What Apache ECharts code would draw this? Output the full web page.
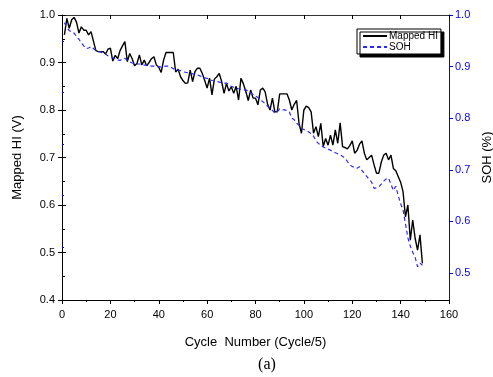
<!DOCTYPE html>
<html><head><meta charset="utf-8">
<script src="https://cdn.jsdelivr.net/npm/echarts@6/dist/echarts.min.js"></script>
<style>html,body{margin:0;padding:0;background:#fff}#c{width:493px;height:377px}</style>
</head><body><div id="c"></div>
<script>
// Cycle numbers (Cycle/5)
const cycles = Array.from({length: 149}, (_, i) => i + 1);
// Mapped HI (V), left axis
const mappedHI = [
0.958,0.993,0.972,0.990,0.995,0.985,0.962,0.975,0.968,0.968,
0.958,0.965,0.945,0.925,0.923,0.923,0.923,0.918,0.928,0.930,
0.903,0.915,0.908,0.925,0.935,0.944,0.902,0.919,0.908,0.893,
0.898,0.916,0.895,0.905,0.893,0.900,0.908,0.912,0.895,0.890,
0.879,0.905,0.921,0.921,0.921,0.921,0.880,0.886,0.870,0.862,
0.856,0.857,0.884,0.860,0.881,0.888,0.888,0.877,0.862,0.846,
0.867,0.832,0.865,0.870,0.877,0.860,0.835,0.856,0.840,0.849,
0.835,0.850,0.821,0.867,0.855,0.839,0.820,0.842,0.825,0.825,
0.811,0.842,0.846,0.838,0.812,0.800,0.825,0.796,0.796,0.834,
0.834,0.834,0.834,0.821,0.800,0.812,0.820,0.772,0.751,0.800,
0.808,0.805,0.796,0.751,0.765,0.744,0.772,0.723,0.740,0.726,
0.747,0.726,0.758,0.730,0.773,0.723,0.721,0.718,0.725,0.735,
0.709,0.715,0.728,0.735,0.709,0.695,0.700,0.705,0.685,0.667,
0.667,0.690,0.705,0.709,0.695,0.705,0.677,0.672,0.660,0.648,
0.628,0.575,0.600,0.526,0.568,0.530,0.505,0.537,0.477
];
// SOH, right axis
const soh = [
0.985,0.975,0.970,0.967,0.965,0.958,0.953,0.946,0.940,0.935,
0.936,0.939,0.935,0.931,0.929,0.928,0.926,0.924,0.921,0.919,
0.917,0.915,0.913,0.912,0.915,0.916,0.912,0.909,0.907,0.906,
0.905,0.905,0.904,0.903,0.903,0.902,0.901,0.901,0.900,0.900,
0.899,0.900,0.901,0.901,0.899,0.896,0.894,0.893,0.892,0.890,
0.889,0.888,0.887,0.886,0.885,0.884,0.882,0.880,0.878,0.877,
0.875,0.873,0.872,0.871,0.870,0.869,0.868,0.868,0.865,0.862,
0.860,0.858,0.857,0.856,0.855,0.855,0.852,0.849,0.846,0.843,
0.840,0.836,0.832,0.828,0.823,0.819,0.815,0.810,0.812,0.818,
0.816,0.816,0.815,0.812,0.800,0.797,0.790,0.786,0.780,0.778,
0.776,0.773,0.770,0.765,0.756,0.751,0.748,0.744,0.742,0.740,
0.738,0.735,0.733,0.731,0.729,0.726,0.722,0.716,0.710,0.706,
0.705,0.703,0.706,0.699,0.693,0.687,0.681,0.676,0.664,0.665,
0.667,0.672,0.678,0.682,0.684,0.672,0.660,0.668,0.650,0.634,
0.622,0.595,0.568,0.552,0.540,0.530,0.512,0.519,0.515
];
const leftTicks = [0.4, 0.5, 0.6, 0.7, 0.8, 0.9, 1.0];
const rightTicks = [0.5, 0.6, 0.7, 0.8, 0.9, 1.0];
const rightMinor = [0.55, 0.65, 0.75, 0.85, 0.95];
const xTicks = [0, 20, 40, 60, 80, 100, 120, 140, 160];

const FONT = 'Liberation Sans, Arial, sans-serif';
const BLUE = '#0000ff';
const RMIN = 0.4475, RMAX = 1.0;

const chart = echarts.init(document.getElementById('c'));
chart.setOption({
  animation: false,
  backgroundColor: '#fff',
  title: {
    text: '(a)', left: 262, top: 352, textAlign: 'center',
    textStyle: {fontFamily: 'Liberation Serif, Times New Roman, serif', fontSize: 16, fontWeight: 'normal', color: '#000'}
  },
  legend: {
    orient: 'vertical', left: 357, top: 29,
    padding: [2, 3, 2, 5], itemGap: 1, itemWidth: 24, itemHeight: 8,
    backgroundColor: '#fff', borderColor: '#000', borderWidth: 1, borderRadius: 0,
    shadowColor: '#000', shadowBlur: 0, shadowOffsetX: 3, shadowOffsetY: 3,
    itemStyle: {opacity: 0},
    textStyle: {fontFamily: FONT, fontSize: 10, lineHeight: 9, color: '#000', padding: [0, 0, 0, -3]},
    data: ['Mapped HI', 'SOH']
  },
  grid: {left: 62, right: 44, top: 15, bottom: 77, containLabel: false, outerBoundsMode: 'none'},
  xAxis: [{
    type: 'value', min: 0, max: 160, interval: 20,
    name: 'Cycle  Number (Cycle/5)', nameLocation: 'middle', nameGap: 36,
    nameTextStyle: {fontFamily: FONT, fontSize: 13, color: '#000'},
    axisLine: {onZero: false, lineStyle: {color: '#000', width: 1}},
    axisTick: {inside: false, length: 4, lineStyle: {color: '#000'}},
    minorTick: {show: true, splitNumber: 2, length: 2, lineStyle: {color: '#000'}},
    axisLabel: {fontFamily: FONT, fontSize: 11, color: '#000', margin: 9, customValues: xTicks},
    splitLine: {show: false}
  }, {
    type: 'value', min: 0, max: 160, interval: 20, position: 'top',
    axisLine: {onZero: false, lineStyle: {color: '#333', width: 1}},
    axisTick: {inside: true, length: 4, lineStyle: {color: '#000'}},
    axisLabel: {show: false}, splitLine: {show: false}
  }],
  yAxis: [{
    type: 'value', min: 0.4, max: 1.0, interval: 0.1, position: 'left', offset: 0,
    name: 'Mapped HI (V)', nameLocation: 'middle', nameGap: 38, nameRotate: 90,
    nameTextStyle: {fontFamily: FONT, fontSize: 13, color: '#000'},
    axisLine: {onZero: false, lineStyle: {color: '#000', width: 1}},
    axisTick: {inside: false, length: 4, lineStyle: {color: '#000'}},
    axisLabel: {fontFamily: FONT, fontSize: 11, color: '#000', margin: 7,
      customValues: leftTicks, formatter: v => v.toFixed(1)},
    splitLine: {show: false}
  }, {
    type: 'value', min: 0.4, max: 1.0, interval: 0.1, position: 'left', offset: 0,
    axisLine: {show: false},
    axisTick: {inside: true, length: 4, lineStyle: {color: '#000'}},
    minorTick: {show: true, splitNumber: 2, length: 3, lineStyle: {color: '#000'}},
    axisLabel: {show: false}, splitLine: {show: false}
  }, {
    type: 'value', min: RMIN, max: RMAX, position: 'right', offset: 0,
    name: 'SOH (%)', nameLocation: 'middle', nameGap: 31, nameRotate: 90,
    nameTextStyle: {fontFamily: FONT, fontSize: 13, color: '#000'},
    axisLine: {onZero: false, lineStyle: {color: BLUE, width: 1}},
    axisTick: {inside: false, length: 4, customValues: rightTicks, lineStyle: {color: BLUE}},
    axisLabel: {fontFamily: FONT, fontSize: 11, color: BLUE, margin: 6,
      customValues: rightTicks, formatter: v => v.toFixed(1)},
    splitLine: {show: false}
  }, {
    type: 'value', min: RMIN, max: RMAX, position: 'right', offset: 0,
    axisLine: {show: false},
    axisTick: {inside: false, length: 2, customValues: rightMinor, lineStyle: {color: BLUE}},
    axisLabel: {show: false}, splitLine: {show: false}
  }],
  series: [{
    name: 'Mapped HI', type: 'line', xAxisIndex: 0, yAxisIndex: 0,
    symbol: 'none', showSymbol: false,
    lineStyle: {color: '#000', width: 1.4},
    itemStyle: {color: '#000'},
    data: cycles.map((c, i) => [c, mappedHI[i]])
  }, {
    name: 'SOH', type: 'line', xAxisIndex: 0, yAxisIndex: 2,
    symbol: 'none', showSymbol: false,
    lineStyle: {color: '#2a2aff', width: 1.2, type: [4, 3]},
    itemStyle: {color: '#2a2aff'},
    data: cycles.map((c, i) => [c, soh[i]])
  }]
});
</script></body></html>
